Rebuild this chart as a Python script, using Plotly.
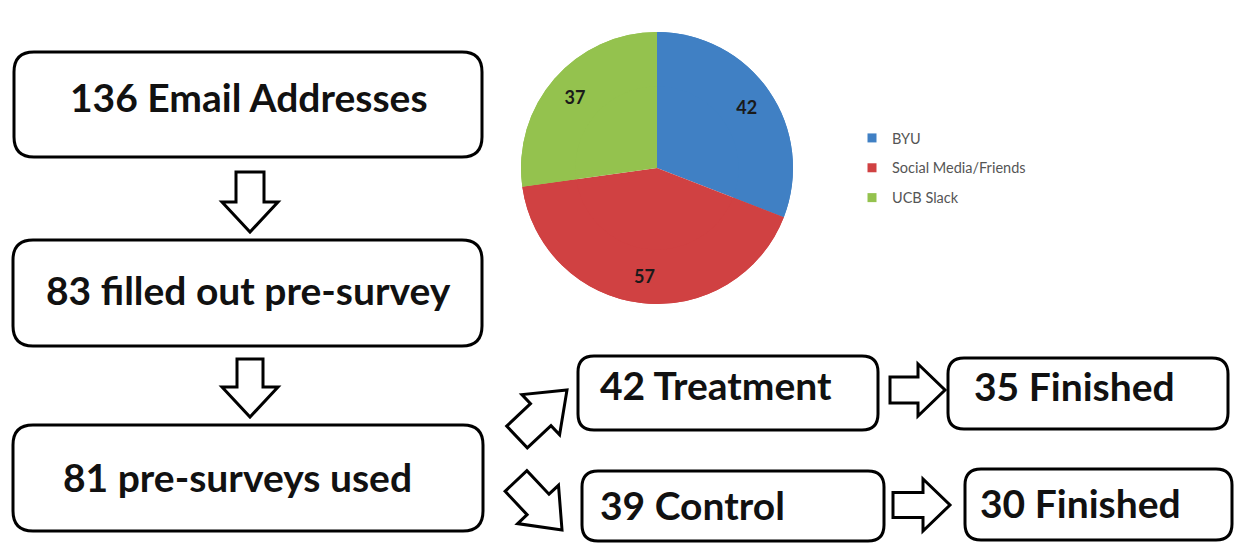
import math
import plotly.graph_objects as go

# Recruitment sources (pie)
source_labels = ["BYU", "Social Media/Friends", "UCB Slack"]
source_counts = [42, 57, 37]
source_colors = ["#4080C4", "#D04142", "#94C24E"]

# Participant flow
flow_steps = ["136 Email Addresses", "83 filled out pre-survey", "81 pre-surveys used"]
arm_steps = ["42 Treatment", "39 Control"]
finished_steps = ["35 Finished", "30 Finished"]

W, H = 1243, 550
fig = go.Figure()

# --- pie of recruitment sources ---
cx, cy, r = 657, 168, 136
pie_domain = dict(x=[(cx - r) / W, (cx + r) / W], y=[1 - (cy + r) / H, 1 - (cy - r) / H])
pie_common = dict(
    labels=source_labels, values=source_counts, sort=False,
    direction="clockwise", rotation=0,
    marker=dict(colors=source_colors, line=dict(width=0)),
    domain=pie_domain, showlegend=False, hoverinfo="label+value",
)
# full disc
fig.add_trace(go.Pie(textinfo="none", **pie_common))
# outer ring carrying the value labels (places them toward the rim)
fig.add_trace(go.Pie(
    hole=0.6,
    texttemplate="<b>%{value}</b>", textposition="inside",
    insidetextorientation="horizontal",
    textfont=dict(family="Lato", size=18, color="#1a1a1a"),
    **pie_common,
))

# legend entries for the pie slices
for lab, col in zip(source_labels, source_colors):
    fig.add_trace(go.Scatter(
        x=[None], y=[None], mode="markers", name=lab, legendgroup=lab,
        marker=dict(symbol="square", size=9, color=col),
    ))


def rounded_rect(x0, y0, x1, y1, rad):
    return (f"M {x0 + rad} {y0} L {x1 - rad} {y0} Q {x1} {y0} {x1} {y0 + rad} "
            f"L {x1} {y1 - rad} Q {x1} {y1} {x1 - rad} {y1} "
            f"L {x0 + rad} {y1} Q {x0} {y1} {x0} {y1 - rad} "
            f"L {x0} {y0 + rad} Q {x0} {y0} {x0 + rad} {y0} Z")


def block_arrow(tail, tip, shaft_hw, head_hw, head_len):
    dx, dy = tip[0] - tail[0], tip[1] - tail[1]
    L = math.hypot(dx, dy)
    ux, uy = dx / L, dy / L
    nx, ny = -uy, ux
    bx, by = tip[0] - ux * head_len, tip[1] - uy * head_len
    pts = [
        (tail[0] + nx * shaft_hw, tail[1] + ny * shaft_hw),
        (bx + nx * shaft_hw, by + ny * shaft_hw),
        (bx + nx * head_hw, by + ny * head_hw),
        tip,
        (bx - nx * head_hw, by - ny * head_hw),
        (bx - nx * shaft_hw, by - ny * shaft_hw),
        (tail[0] - nx * shaft_hw, tail[1] - ny * shaft_hw),
    ]
    return "M " + " L ".join(f"{x:.1f} {y:.1f}" for x, y in pts) + " Z"


line = dict(color="black", width=3)
shapes = []

# left column boxes
left_boxes = [(14, 52, 482, 157), (13, 240, 482, 346), (13, 425, 483, 531)]
for b in left_boxes:
    shapes.append(dict(type="path", path=rounded_rect(*b, 20), line=line,
                       fillcolor="white", xref="x", yref="y", layer="below"))

# arm boxes and finished boxes
right_boxes = [(578, 356, 878, 430), (582, 471, 884, 541),
               (948, 358, 1228, 429), (965, 469, 1232, 540)]
for b in right_boxes:
    shapes.append(dict(type="path", path=rounded_rect(*b, 16), line=line,
                       fillcolor="white", xref="x", yref="y", layer="below"))

# block arrows
arrows = [
    ((250, 172), (250, 232), 14, 28, 30),
    ((250, 359), (250, 417), 13, 28, 30),
    ((517, 437), (567, 390), 15, 27.5, 36),
    ((516, 481), (562, 530), 15, 28, 35),
    ((890, 390), (945, 390), 13, 26, 27),
    ((893, 505), (950, 505), 12.5, 26, 27),
]
for a in arrows:
    shapes.append(dict(type="path", path=block_arrow(*a), line=line,
                       fillcolor="white", xref="x", yref="y"))

annotations = []
box_font = dict(family="Lato", size=39, color="#111111")
left_text_pos = [(249, 97), (248, 290), (237, 477)]
for txt, (tx, ty) in zip(flow_steps, left_text_pos):
    annotations.append(dict(x=tx, y=ty, text=f"<b>{txt}</b>", showarrow=False,
                            xref="x", yref="y", xanchor="center", yanchor="middle",
                            font=box_font))

arm_font = dict(family="Lato", size=39, color="#111111")
for txt, (tx, ty) in zip(arm_steps, [(598, 385), (598, 505)]):
    annotations.append(dict(x=tx, y=ty, text=f"<b>{txt}</b>", showarrow=False,
                            xref="x", yref="y", xanchor="left", yanchor="middle",
                            font=arm_font))
for txt, (tx, ty) in zip(finished_steps, [(972, 386), (978, 503)]):
    annotations.append(dict(x=tx, y=ty, text=f"<b>{txt}</b>", showarrow=False,
                            xref="x", yref="y", xanchor="left", yanchor="middle",
                            font=arm_font))

fig.update_layout(
    width=W, height=H, margin=dict(l=0, r=0, t=0, b=0),
    paper_bgcolor="white", plot_bgcolor="white",
    xaxis=dict(range=[0, W], visible=False, fixedrange=True),
    yaxis=dict(range=[H, 0], visible=False, fixedrange=True),
    shapes=shapes, annotations=annotations,
    legend=dict(x=852 / W, y=1 - 122 / H, xanchor="left", yanchor="top",
                font=dict(family="Lato", size=14.5, color="#555555"),
                tracegroupgap=8, bgcolor="rgba(0,0,0,0)", itemwidth=30),
)

fig.write_html("out.html")
